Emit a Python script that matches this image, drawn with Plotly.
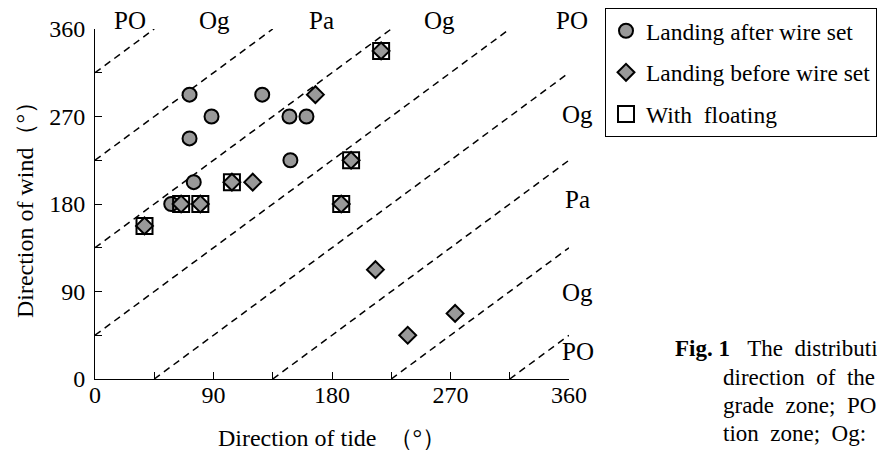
import plotly.graph_objects as go

# ---- data ----
after_tide = [71.8, 127, 88.5, 71.8, 147.7, 160.6, 148.4, 75, 57.9]
after_wind = [292.5, 292.5, 270, 247.5, 270, 270, 225, 202.5, 180]

before_tide = [167.4, 119.8, 104, 37.6, 65.4, 80, 187, 194.5, 217.3, 213, 273.5, 237.5]
before_wind = [292.5, 202.5, 202.5, 157.5, 180, 180, 180, 225, 337.5, 112.5, 67.5, 45]

float_tide = [37.6, 65.4, 80, 104, 187, 194.5, 217.3]
float_wind = [157.5, 180, 180, 202.5, 180, 225, 337.5]

# zone boundary offsets: wind = tide + c
zone_offsets = [315, 225, 135, 45, -45, -135, -225, -315]

tick_vals = [0, 45, 90, 135, 180, 225, 270, 315, 360]
tick_text = ["0", "", "90", "", "180", "", "270", "", "360"]

top_labels = ["PO", "Og", "Pa", "Og", "PO"]
top_label_tide = [26.5, 90.6, 172, 262, 362]
right_labels = ["Og", "Pa", "Og", "PO"]
right_label_wind = [272, 185, 89, 28]

NB = "\u00a0"
caption_first = "<b>Fig. 1</b>" + NB * 3 + "The" + NB * 2 + "distributi"
caption_rest = ["direction" + NB * 2 + "of" + NB * 2 + "the",
                "grade" + NB * 2 + "zone;" + NB * 2 + "PO",
                "tion" + NB * 2 + "zone;" + NB * 2 + "Og:"]

FONT = "Liberation Serif, Times New Roman, serif"
GRAY = "#999999"

L, R, T, B = 95, 308, 29, 73
W, H = 877, 452
pw, ph = W - L - R, H - T - B

fig = go.Figure()

# dashed zone boundaries
lx, ly = [], []
for c in zone_offsets:
    x0 = max(0, -c)
    x1 = min(360, 360 - c)
    lx += [x0, x1, None]
    ly += [x0 + c, x1 + c, None]
fig.add_trace(go.Scatter(x=lx, y=ly, mode="lines", showlegend=False,
                         line=dict(color="black", width=1.5, dash="7px,5px"),
                         hoverinfo="skip"))

fig.add_trace(go.Scatter(x=after_tide, y=after_wind, mode="markers",
                         name="Landing after wire set", legendgroup="a",
                         marker=dict(symbol="circle", size=14, color=GRAY,
                                     line=dict(color="black", width=2))))
fig.add_trace(go.Scatter(x=before_tide, y=before_wind, mode="markers",
                         name="Landing before wire set", legendgroup="b",
                         marker=dict(symbol="diamond", size=13, color=GRAY,
                                     line=dict(color="black", width=2))))
fig.add_trace(go.Scatter(x=float_tide, y=float_wind, mode="markers",
                         name="With" + NB + NB + "floating", legendgroup="c",
                         marker=dict(symbol="square", size=16, color="rgba(0,0,0,0)",
                                     line=dict(color="black", width=2))))

annotations = []
zone_font = dict(family=FONT, size=25, color="black")
# zone labels (data units converted to paper, as they sit outside the axis range)
for t, x in zip(top_labels, top_label_tide):
    annotations.append(dict(x=x / 360, y=369 / 360, xref="paper", yref="paper", text=t,
                            showarrow=False, xanchor="center", yanchor="middle",
                            font=zone_font))
for t, y in zip(right_labels, right_label_wind):
    annotations.append(dict(x=366.5 / 360, y=y / 360, xref="paper", yref="paper", text=t,
                            showarrow=False, xanchor="center", yanchor="middle",
                            font=zone_font))

cap_font = dict(family=FONT, size=23, color="black")
annotations.append(dict(x=(673 - L) / pw, y=(H - B - 348) / ph, xref="paper", yref="paper",
                        text=caption_first, showarrow=False, xanchor="left",
                        yanchor="middle", font=cap_font))
for i, line in enumerate(caption_rest):
    annotations.append(dict(x=(721 - L) / pw, y=(H - B - (377 + 28 * i)) / ph,
                            xref="paper", yref="paper", text=line, showarrow=False,
                            xanchor="left", yanchor="middle", font=cap_font))

axis_common = dict(range=[0, 360], tickvals=tick_vals, ticktext=tick_text,
                   ticks="inside", ticklen=7, tickwidth=1, tickcolor="black",
                   showline=True, linecolor="black", linewidth=1,
                   showgrid=False, zeroline=False, automargin=False,
                   tickfont=dict(family=FONT, size=24, color="black"))

fig.update_layout(
    width=W, height=H,
    margin=dict(l=L, r=R, t=T, b=B, autoexpand=False),
    paper_bgcolor="white", plot_bgcolor="white",
    font=dict(family=FONT, color="black"),
    xaxis=dict(**axis_common, ticklabelstandoff=-6,
               title=dict(text="Direction of tide" + NB + NB + "（°）",
                          font=dict(family=FONT, size=24, color="black"), standoff=22)),
    yaxis=dict(**axis_common, ticklabelstandoff=4,
               title=dict(text="Direction of wind（°）",
                          font=dict(family=FONT, size=24, color="black"), standoff=8)),
    legend=dict(x=(605 - L) / pw, y=(H - B - 8) / ph, xanchor="left", yanchor="top",
                bordercolor="black", borderwidth=1, bgcolor="white",
                font=dict(family=FONT, size=23.5, color="black"),
                tracegroupgap=8, itemwidth=30),
    annotations=annotations,
    showlegend=True,
)

fig.write_html("out.html", config={"displayModeBar": False},
               post_script="document.body.style.margin='0';")
